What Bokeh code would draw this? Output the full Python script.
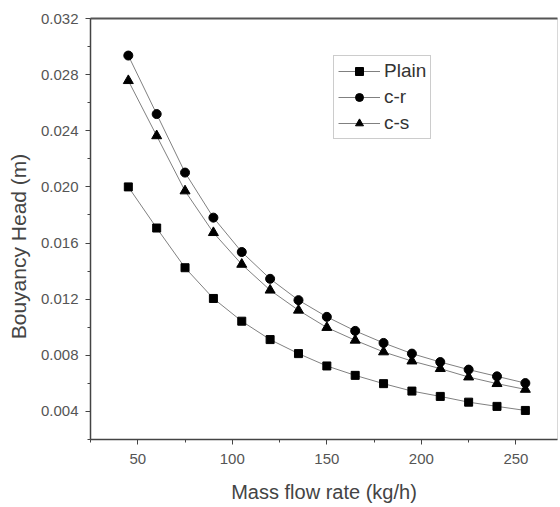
from bokeh.plotting import figure
from bokeh.models import FixedTicker, PrintfTickFormatter, Range1d, Legend, LinearAxis
from bokeh.embed import file_html
from bokeh.resources import INLINE

mass_flow = [45, 60, 75, 90, 105, 120, 135, 150, 165, 180, 195, 210, 225, 240, 255]
plain = [0.0200, 0.01707, 0.01424, 0.01205, 0.01043, 0.00912, 0.00812, 0.00724,
         0.00657, 0.00598, 0.00545, 0.00507, 0.00466, 0.00436, 0.00407]
c_r = [0.02936, 0.02519, 0.02102, 0.01781, 0.01536, 0.01345, 0.01193, 0.01074,
       0.00974, 0.00888, 0.00812, 0.00752, 0.00698, 0.00650, 0.00602]
c_s = [0.02757, 0.02364, 0.01971, 0.01674, 0.01448, 0.01264, 0.01121, 0.00998,
       0.00907, 0.00824, 0.00759, 0.00705, 0.00645, 0.00598, 0.00557]

x_ticks = [50, 100, 150, 200, 250]
x_minor = [25, 75, 125, 175, 225]
y_ticks = [0.004, 0.008, 0.012, 0.016, 0.020, 0.024, 0.028, 0.032]
y_minor = [0.002, 0.006, 0.010, 0.014, 0.018, 0.022, 0.026, 0.030]

FONT = "Liberation Sans"

p = figure(frame_width=467, frame_height=421, output_backend="svg",
           toolbar_location=None, x_range=Range1d(25, 272),
           y_range=Range1d(0.002, 0.032))
p.min_border_left = 90
p.min_border_top = 18
p.min_border_right = 2
p.min_border_bottom = 66
p.background_fill_color = "white"
p.border_fill_color = "white"
p.grid.visible = False
p.outline_line_color = "#d8d8d8"
p.outline_line_width = 1

series = [
    (plain, "Plain", "square", 8),
    (c_r, "c-r", "circle", 9),
    (c_s, "c-s", "triangle", 10),
]
items = []
for ys, label, marker, size in series:
    l = p.line(mass_flow, ys, line_color="#808080", line_width=1)
    s = p.scatter(mass_flow, ys, marker=marker, size=size, fill_color="black",
                  line_color="black")
    items.append((label, [l, s]))

legend = Legend(items=items, location=(243, 300))
legend.label_text_font = FONT
legend.label_text_font_size = "19px"
legend.label_text_color = "#333333"
legend.glyph_width = 42
legend.glyph_height = 20
legend.label_height = 20
legend.spacing = 4
legend.padding = 4
legend.margin = 0
legend.label_standoff = 4
legend.border_line_color = "#999999"
legend.border_line_width = 1
legend.background_fill_alpha = 1
p.add_layout(legend, "center")

top_axis = LinearAxis(ticker=FixedTicker(ticks=[]), major_tick_line_color=None,
                      minor_tick_line_color=None, axis_line_color="#555555",
                      axis_line_width=2, major_label_standoff=0)
p.add_layout(top_axis, "above")

p.below[0].ticker = FixedTicker(ticks=x_ticks, minor_ticks=x_minor)
p.left[0].ticker = FixedTicker(ticks=y_ticks, minor_ticks=y_minor)
p.left[0].formatter = PrintfTickFormatter(format="%.3f")

for ax in (p.below[0], p.left[0]):
    ax.axis_line_color = "#444444"
    ax.axis_line_width = 1.5
    ax.major_tick_line_color = "#444444"
    ax.minor_tick_line_color = "#444444"
    ax.major_tick_in = 0
    ax.major_tick_out = 5
    ax.minor_tick_in = 0
    ax.minor_tick_out = 3
    ax.major_label_text_font = FONT
    ax.major_label_text_font_size = "15px"
    ax.major_label_text_color = "#555555"
    ax.axis_label_text_font = FONT
    ax.axis_label_text_font_style = "normal"
    ax.axis_label_text_color = "#444444"

p.below[0].axis_label = "Mass flow rate (kg/h)"
p.below[0].axis_label_text_font_size = "20px"
p.left[0].axis_label = "Bouyancy Head (m)" + "\u00a0" * 6
p.left[0].axis_label_text_font_size = "21px"
p.below[0].major_label_standoff = 9
p.below[0].axis_label_standoff = 14
p.left[0].major_label_standoff = 7
p.left[0].axis_label_standoff = 8

open("out.html", "w").write(file_html(p, INLINE))
